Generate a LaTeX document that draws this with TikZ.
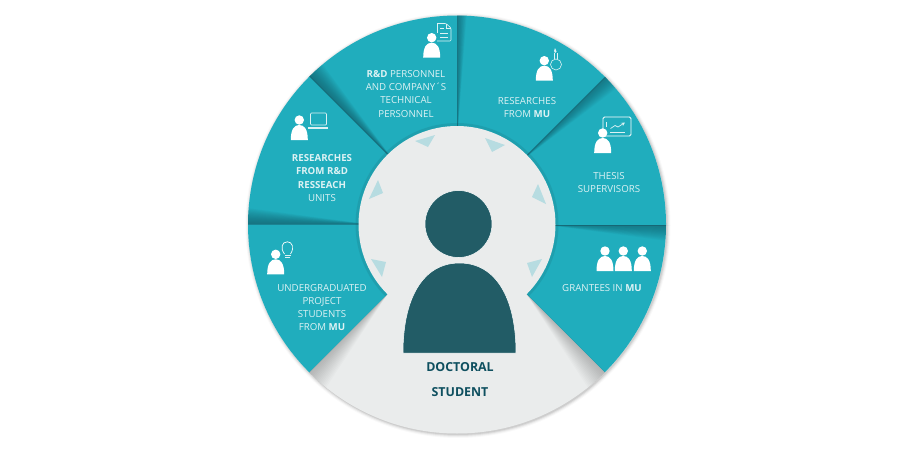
\documentclass[tikz,border=0pt]{standalone}
\usepackage{fontspec}
\setmainfont{Open Sans}
\definecolor{tealx}{HTML}{20ADBD}
\definecolor{tealdark}{HTML}{16525E}
\definecolor{hubgrey}{HTML}{EAECEC}
\definecolor{figdark}{HTML}{225C66}
\definecolor{arrowpale}{HTML}{B7DCE1}
\definecolor{textdark}{HTML}{0E4F5F}
\definecolor{iconpale}{HTML}{DDF2F4}
\newcommand{\spokeshade}[5]{% angle, side(+1/-1), width, colour, opacity
  \begin{scope}
    \clip (457,224.5) circle (209);
    \begin{scope}[shift={(457,224.5)},rotate=#1,y=1pt]
      \foreach \i in {1,...,14}{
        \fill[#4,fill opacity=#5] (92,#2*0.6) -- (214,#2*0.6) -- (214,{#2*#3*\i/14}) -- cycle;
      }
      \fill[#4,fill opacity=.45] (92,0) rectangle (214,#2*1);
    \end{scope}
  \end{scope}}
\newcommand{\pers}[2]{%
  \fill[white] (#1,#2) circle (4.7);
  \fill[white] ({#1-8.5},{#2+20}) .. controls ({#1-8.5},{#2+9}) and ({#1-5},{#2+5}) .. (#1,{#2+5})
     .. controls ({#1+5},{#2+5}) and ({#1+8.5},{#2+9}) .. ({#1+8.5},{#2+20}) -- cycle;}
\tikzset{
  lbl/.style={text=iconpale,font=\fontsize{9.7}{13.3}\selectfont,align=center,inner sep=0pt},
  big/.style={text=textdark,font=\fontsize{12.4}{14}\bfseries\selectfont,inner sep=0pt},
  tri/.style={fill=arrowpale},
  ico/.style={draw=iconpale,line width=.6pt,fill=none},
}
\begin{document}
\begin{tikzpicture}[x=1pt,y=-1pt]
\useasboundingbox (0,0) rectangle (911,450);
\fill[white] (0,0) rectangle (911,450);
% outer soft shadow
\foreach \r/\o in {212.5/.025,211.5/.04,210.5/.06,209.5/.08}{
  \fill[black,fill opacity=\o] (458,225.5) circle (\r);
}
% grey disc
\fill[hubgrey] (457,224.5) circle (209);
% teal band
\fill[tealx] (457,224.5) -- (604.8,372.3) arc[start angle=45,end angle=-225,radius=209] -- cycle;
% spoke shadows
\spokeshade{180}{-1}{17}{tealdark}{.06}
\spokeshade{135}{-1}{19}{tealdark}{.06}
\spokeshade{90}{-1}{10}{tealdark}{.05}
\spokeshade{45}{-1}{17}{tealdark}{.05}
\spokeshade{0}{-1}{17}{tealdark}{.05}
% shadows on the grey
\begin{scope}
  \clip (457,224.5) circle (209);
  \begin{scope}[shift={(457,224.5)},rotate=-45,y=1pt]
    \foreach \i in {1,...,14}{\fill[black,fill opacity=.015] (98,0) -- (214,0) -- (214,{-24*\i/14}) -- cycle;}
  \end{scope}
  \begin{scope}[shift={(457,224.5)},rotate=225,y=1pt]
    \foreach \i in {1,...,14}{\fill[black,fill opacity=.015] (98,0) -- (214,0) -- (214,{24*\i/14}) -- cycle;}
  \end{scope}
\end{scope}
% hub
\begin{scope}
  \clip (457,224.5) -- (604.8,372.3) arc[start angle=45,end angle=-225,radius=209] -- cycle;
  \fill[tealdark,fill opacity=.15] (457,224.5) circle (101.5);
\end{scope}
\fill[hubgrey] (457,224.5) circle (98.5);
% arrows
\fill[tri] (415,141) -- (435,135) -- (428,147) -- cycle;
\fill[tri] (378,180) -- (383,193) -- (369,199) -- cycle;
\fill[tri] (485,138) -- (505,145) -- (492,152) -- cycle;
\fill[tri] (538,184) -- (546,204) -- (532,197) -- cycle;
\fill[tri] (371,259) -- (386,262) -- (382,277) -- cycle;
\fill[tri] (542,259) -- (527,263) -- (532,277) -- cycle;
% central figure
\fill[figdark,draw=white,line width=.5pt] (458.5,224) circle (33.5);
\fill[figdark,draw=white,line width=.5pt] (403,353) .. controls (403,298) and (423,263) .. (459.5,263)
  .. controls (496,263) and (516,298) .. (516,353) -- cycle;
% icons
\pers{431.7}{37.7}
\pers{299.3}{120}
\pers{544.3}{60.7}
\pers{602.7}{133}
\pers{605}{251}
\pers{623.3}{251}
\pers{642.3}{251}
\pers{275.7}{254.3}
% document
\draw[ico,rounded corners=1pt] (437,23.5) -- (446,23.5) -- (451,28) -- (451,41) -- (437,41);
\draw[ico] (437,23.5) -- (437,33);
\draw[ico] (446,23.5) -- (446,28) -- (451,28);
\draw[ico] (440,28) -- (444,28) (440,33) -- (448,33) (440,37) -- (448,37);
% laptop
\draw[ico,rounded corners=1pt,line width=.7pt] (310.5,125) -- (310.5,113) -- (326.5,113) -- (326.5,125) -- cycle;
\fill[iconpale] (308,127) rectangle (328,129);
% flask
\draw[ico] (556,64.5) circle (5.5);
\draw[ico] (554.5,59.3) -- (554.5,53) (557.5,59.3) -- (557.5,53);
\fill[iconpale] (555,48) -- (556.5,51.5) -- (555,53) -- (554,51) -- cycle;
% board
\draw[white,line width=.8pt,rounded corners=1.5pt] (603,117) rectangle (631,136);
\draw[iconpale,line width=.7pt] (606.7,122) -- (606.7,127);
\draw[iconpale,line width=.7pt,->,>=stealth] (610.5,128.5) -- (615,125.5) -- (618,127) -- (625,122.5);
\draw[iconpale,line width=1pt] (610,132) -- (625,132);
% bulb
\draw[white,line width=.7pt] (284.5,254) .. controls (280,248) and (282,241.8) .. (287.3,241.8)
  .. controls (292.5,241.8) and (294.5,248) .. (290.5,254);
\draw[iconpale,line width=1pt] (284.5,255.5) -- (290.5,255.5) (285,257.5) -- (290,257.5);
% labels
\node[lbl] (rdp) at (406,93.7) {\textbf{R\&D} PERSONNEL\\AND COMPANY´S\\TECHNICAL\\PERSONNEL};
\node[lbl] (rru) at (322,178) {\textbf{RESEARCHES}\\\textbf{FROM R\&D}\\\textbf{RESSEACH}\\UNITS};
\node[lbl] (rmu) at (527,107.5) {RESEARCHES\\FROM \textbf{MU}};
\node[lbl] (ths) at (609,182.5) {THESIS\\SUPERVISORS};
\node[lbl] (gra) at (602,288) {GRANTEES IN \textbf{MU}};
\node[lbl] (ugs) at (322,307.5) {UNDERGRADUATED\\PROJECT\\STUDENTS\\FROM \textbf{MU}};
\node[big] (doc) at (460,367.5) {DOCTORAL};
\node[big] (stu) at (460,392) {STUDENT};
\end{tikzpicture}
\end{document}
